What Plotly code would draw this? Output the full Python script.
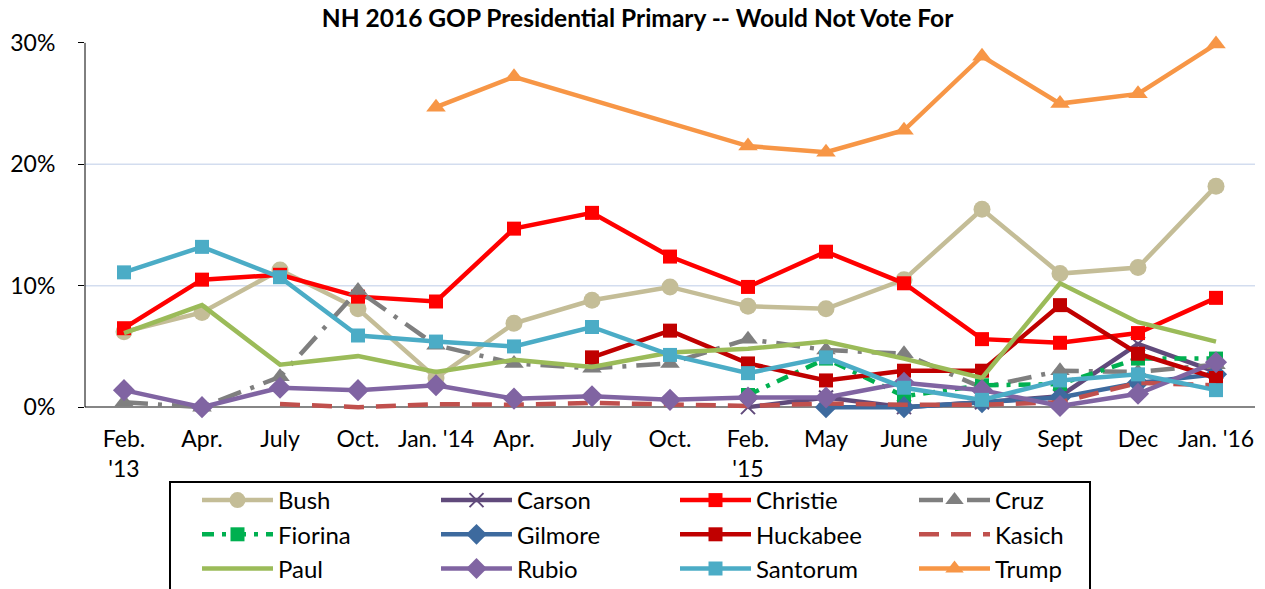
import plotly.graph_objects as go

# ---- data (percent "would not vote for") ----
tick_labels = ["Feb.<br>'13", "Apr.", "July", "Oct.", "Jan. '14", "Apr.", "July", "Oct.",
               "Feb.<br>'15", "May", "June", "July", "Sept", "Dec", "Jan. '16"]
x_idx = list(range(len(tick_labels)))

bush     = [6.2, 7.8, 11.3, 8.1, 2.4, 6.9, 8.8, 9.9, 8.3, 8.1, 10.5, 16.3, 11.0, 11.5, 18.2]
carson   = [None, None, None, None, None, None, None, None, 0.0, 0.8, 0.0, 0.4, 0.9, 5.2, 2.9]
christie = [6.5, 10.5, 10.9, 9.1, 8.7, 14.7, 16.0, 12.4, 9.9, 12.8, 10.2, 5.6, 5.3, 6.1, 9.0]
cruz     = [0.4, 0.0, 2.5, 9.6, 5.1, 3.6, 3.2, 3.6, 5.6, 4.7, 4.4, 1.6, 3.0, 2.9, 3.5]
fiorina  = [None, None, None, None, None, None, None, None, 1.0, 4.0, 0.9, 1.8, 1.9, 4.0, 4.0]
gilmore  = [None, None, None, None, None, None, None, None, None, 0.0, 0.0, 0.4, 0.8, 2.0, 2.7]
huckabee = [None, None, None, None, None, None, 4.1, 6.3, 3.6, 2.2, 3.0, 3.0, 8.4, 4.4, 2.4]
kasich   = [None, None, 0.25, 0.0, 0.25, 0.2, 0.35, 0.25, 0.1, 0.3, 0.2, 0.2, 0.4, 2.0, 1.8]
paul     = [6.1, 8.4, 3.5, 4.2, 2.9, 3.9, 3.3, 4.5, 4.8, 5.4, 4.0, 2.4, 10.2, 7.0, 5.4]
rubio    = [1.4, 0.0, 1.6, 1.4, 1.8, 0.7, 0.9, 0.6, 0.8, 0.8, 2.0, 1.4, 0.1, 1.1, 3.7]
santorum = [11.1, 13.2, 10.7, 5.9, 5.4, 5.0, 6.6, 4.3, 2.8, 4.1, 1.6, 0.6, 2.2, 2.7, 1.4]
trump    = [None, None, None, None, 24.7, 27.2, None, None, 21.5, 21.0, 22.8, 28.9, 25.0, 25.8, 29.9]

FONT = "Lato"
LW = 4.5

series = [
    ("Bush", bush, "#C4BD97", "circle", 17, "solid"),
    ("Carson", carson, "#604A7B", "x-thin", 14, "solid"),
    ("Christie", christie, "#FF0000", "square", 14, "solid"),
    ("Cruz", cruz, "#7F7F7F", "triangle-up", 17, "24px,10px,4px,10px"),
    ("Fiorina", fiorina, "#00B050", "square", 14, "12px,8px,4px,8px"),
    ("Gilmore", gilmore, "#3D6A9E", "diamond", 17, "solid"),
    ("Huckabee", huckabee, "#C00000", "square", 14, "solid"),
    ("Kasich", kasich, "#C0504D", None, 0, "20px,12px"),
    ("Paul", paul, "#9BBB59", None, 0, "solid"),
    ("Rubio", rubio, "#8064A2", "diamond", 17, "solid"),
    ("Santorum", santorum, "#4BACC6", "square", 14, "solid"),
    ("Trump", trump, "#F79646", "triangle-up", 17, "solid"),
]

fig = go.Figure()
for name, vals, color, sym, size, dash in series:
    if sym is None:
        mode = "lines"
        marker = None
    else:
        mode = "lines+markers"
        if sym == "x-thin":
            marker = dict(symbol=sym, size=size, color=color,
                          line=dict(color=color, width=2))
        else:
            marker = dict(symbol=sym, size=size, color=color, line=dict(width=0))
    fig.add_trace(go.Scatter(
        x=x_idx, y=vals, name=name, mode=mode, marker=marker,
        line=dict(color=color, width=LW, dash=dash),
        connectgaps=True, cliponaxis=False,
    ))

def py(p):
    # pixel row -> paper y (plot area from y=38 to y=412)
    return (412 - p) / 374.0

def px(p):
    return (p - 85) / 1170.0

shapes = []
for g in (10, 20):
    shapes.append(dict(type="line", xref="paper", yref="y", x0=0, x1=1, y0=g, y1=g,
                       line=dict(color="#D3DDEF", width=1.5), layer="below"))
# y axis line
shapes.append(dict(type="line", xref="paper", yref="y", x0=0, x1=0, y0=0, y1=30,
                   line=dict(color="#000000", width=1)))
# legend frame
shapes.append(dict(type="rect", xref="paper", yref="paper",
                   x0=px(170), x1=px(1090), y0=py(482), y1=py(605),
                   line=dict(color="#000000", width=2), fillcolor="rgba(0,0,0,0)"))

fig.update_layout(
    width=1265, height=589, autosize=False,
    margin=dict(l=85, r=10, t=38, b=177, autoexpand=False),
    paper_bgcolor="white", plot_bgcolor="white",
    font=dict(family=FONT, color="#000000"),
    title=dict(text="<b>NH 2016 GOP Presidential Primary -- Would Not Vote For</b>",
               x=0.504, xref="container", xanchor="center",
               y=1 - 18 / 589, yref="container", yanchor="middle",
               font=dict(family=FONT, size=24.5, color="#000000")),
    xaxis=dict(range=[-0.5, 14.5], tickmode="array", tickvals=x_idx, ticktext=tick_labels,
               showgrid=False, showline=False, zeroline=False, ticks="",
               ticklabelstandoff=11,
               tickfont=dict(family=FONT, size=23, color="#000000")),
    yaxis=dict(range=[-0.4, 30.4], tickmode="array", tickvals=[0, 10, 20, 30],
               ticktext=["0%", "10%", "20%", "30%"], showgrid=False,
               zeroline=True, zerolinecolor="#868686", zerolinewidth=1.5,
               showline=False, ticks="outside", ticklen=6, tickcolor="#000000",
               ticklabelstandoff=18,
               tickfont=dict(family=FONT, size=23, color="#000000")),
    showlegend=True,
    legend=dict(orientation="h", x=px(197), xanchor="left", y=py(478), yanchor="top",
                entrywidth=153, entrywidthmode="pixels", itemwidth=71,
                font=dict(family=FONT, size=24, color="#000000"),
                bgcolor="rgba(0,0,0,0)", borderwidth=0, tracegroupgap=0),
    shapes=shapes,
)

fig.write_html("out.html", config={"displayModeBar": False},
               post_script="document.body.style.margin='0';document.body.style.overflow='hidden';")
